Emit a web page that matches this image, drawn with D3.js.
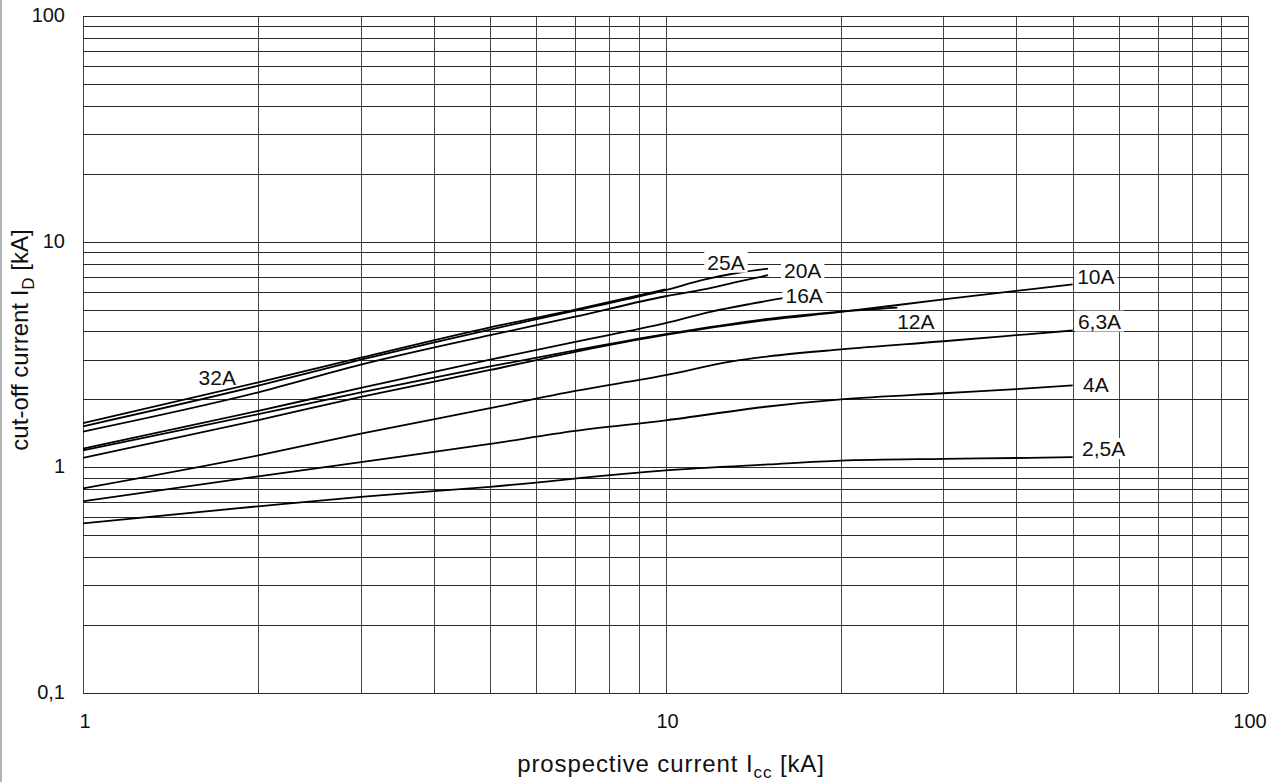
<!DOCTYPE html>
<html>
<head>
<meta charset="utf-8">
<script src="https://cdn.jsdelivr.net/npm/d3@7"></script>
<style>
  body { margin: 0; background: #fff; }
  svg text { font-family: "Liberation Sans", Arial, sans-serif; fill: #111; }
</style>
</head>
<body>
<svg id="chart"></svg>
<script>
// prospective current Icc [kA] / cut-off current ID [kA]
const curves = [
  { name: '32A',  x: [1, 2, 3, 5, 7, 10],                         y: [1.57, 2.38, 3.06, 4.17, 5.0, 6.15] },
  { name: '25A',  x: [1, 2, 3, 5, 7, 10, 11.7, 13.4, 15],         y: [1.52, 2.3, 3.0, 4.08, 4.95, 6.1, 6.8, 7.3, 7.6] },
  { name: '20A',  x: [1, 2, 3, 5, 7, 10, 11.7, 13.4, 15],         y: [1.44, 2.15, 2.85, 3.85, 4.65, 5.73, 6.16, 6.67, 7.1] },
  { name: '16A',  x: [1, 2, 3, 5, 7, 10, 12, 14, 16],             y: [1.21, 1.78, 2.25, 3.0, 3.6, 4.35, 4.9, 5.3, 5.63] },
  { name: '12A',  x: [1, 2, 3, 5, 7, 10, 15, 20, 25],             y: [1.19, 1.72, 2.15, 2.8, 3.3, 3.89, 4.55, 4.9, 5.1] },
  { name: '10A',  x: [1, 2, 3, 5, 7, 10, 15, 20, 30, 40, 50],     y: [1.1, 1.62, 2.05, 2.7, 3.25, 3.86, 4.5, 4.88, 5.55, 6.05, 6.47] },
  { name: '6,3A', x: [1, 2, 3, 5, 7, 10, 13, 15, 20, 30, 40, 50], y: [0.807, 1.13, 1.41, 1.83, 2.18, 2.56, 2.95, 3.1, 3.33, 3.62, 3.85, 4.04] },
  { name: '4A',   x: [1, 2, 3, 5, 7, 10, 15, 20, 30, 40, 50],     y: [0.707, 0.912, 1.055, 1.27, 1.45, 1.615, 1.86, 2.0, 2.13, 2.22, 2.31] },
  { name: '2,5A', x: [1, 2, 3, 5, 10, 15, 20, 30, 40, 50],        y: [0.565, 0.672, 0.74, 0.82, 0.97, 1.03, 1.07, 1.09, 1.1, 1.11] }
];

// where each curve label sits, in chart units (kA, kA)
const labelAt = [
  { name: '32A',  x: 1.70, y: 2.5,  box: false },
  { name: '25A',  x: 12.7, y: 8.1,  box: true },
  { name: '20A',  x: 17.2, y: 7.45, box: true },
  { name: '16A',  x: 17.3, y: 5.78, box: true },
  { name: '12A',  x: 26.9, y: 4.44, box: false },
  { name: '10A',  x: 54.8, y: 7.0,  box: true },
  { name: '6,3A', x: 55.6, y: 4.44, box: true },
  { name: '4A',   x: 54.8, y: 2.33, box: true },
  { name: '2,5A', x: 56.5, y: 1.21, box: true }
];

const xTicks = [1, 10, 100];
const xTickLabels = ['1', '10', '100'];
const yTicks = [0.1, 1, 10, 100];
const yTickLabels = ['0,1', '1', '10', '100'];

const W = 1282, H = 782;
const svg = d3.select('#chart').attr('width', W).attr('height', H);

const x = d3.scaleLog().domain([1, 100]).range([83, 1248]);
const y = d3.scaleLog().domain([0.1, 100]).range([693, 16]);

// left page border
svg.append('line')
  .attr('x1', 1).attr('x2', 1).attr('y1', 0).attr('y2', H)
  .attr('stroke', '#999').attr('stroke-width', 1.5);

// grid
const grid = svg.append('g').attr('shape-rendering', 'crispEdges');
grid.selectAll('line.gx')
  .data(x.ticks())
  .join('line')
  .attr('class', 'gx')
  .attr('x1', d => Math.round(x(d)) + 0.5).attr('x2', d => Math.round(x(d)) + 0.5)
  .attr('y1', y(0.1)).attr('y2', y(100))
  .attr('stroke', '#444').attr('stroke-width', 1);

grid.selectAll('line.gy')
  .data(y.ticks())
  .join('line')
  .attr('class', 'gy')
  .attr('x1', x(1)).attr('x2', x(100))
  .attr('y1', d => Math.round(y(d)) + 0.5).attr('y2', d => Math.round(y(d)) + 0.5)
  .attr('stroke', '#2a2a2a').attr('stroke-width', 1);

// tick labels
svg.append('g').selectAll('text')
  .data(xTicks)
  .join('text')
  .attr('x', d => x(d) + 2)
  .attr('y', 728)
  .attr('text-anchor', 'middle')
  .attr('font-size', 20)
  .text((d, i) => xTickLabels[i]);

svg.append('g').selectAll('text')
  .data(yTicks)
  .join('text')
  .attr('x', 65)
  .attr('y', d => y(d) + 6)
  .attr('text-anchor', 'end')
  .attr('font-size', 20)
  .text((d, i) => yTickLabels[i]);

// curves
const line = d3.line()
  .x(d => x(d[0]))
  .y(d => y(d[1]))
  .curve(d3.curveMonotoneX);

svg.append('g').selectAll('path')
  .data(curves)
  .join('path')
  .attr('d', c => line(c.x.map((v, i) => [v, c.y[i]])))
  .attr('fill', 'none')
  .attr('stroke', '#000')
  .attr('stroke-width', 1.8);

// curve labels, most with a white box that breaks the grid
const lab = svg.append('g').selectAll('g')
  .data(labelAt)
  .join('g')
  .attr('transform', d => `translate(${x(d.x)},${y(d.y)})`);

lab.append('text')
  .attr('text-anchor', 'middle')
  .attr('dy', '0.35em')
  .attr('font-size', 21)
  .text(d => d.name);

lab.each(function(d) {
  if (!d.box) return;
  const g = d3.select(this);
  const bb = g.select('text').node().getBBox();
  g.insert('rect', 'text')
    .attr('x', bb.x - 3).attr('y', bb.y + 1)
    .attr('width', bb.width + 6).attr('height', bb.height - 2)
    .attr('fill', '#fff');
});

// axis titles
svg.append('text')
  .attr('x', 671).attr('y', 772)
  .attr('text-anchor', 'middle')
  .attr('font-size', 24)
  .attr('letter-spacing', 0.9)
  .call(t => {
    t.append('tspan').text('prospective current I');
    t.append('tspan').attr('font-size', 17).attr('dy', 6).text('cc');
    t.append('tspan').attr('dy', -6).text(' [kA]');
  });

svg.append('text')
  .attr('transform', 'translate(28,340) rotate(-90)')
  .attr('text-anchor', 'middle')
  .attr('font-size', 24)
  .call(t => {
    t.append('tspan').text('cut-off current I');
    t.append('tspan').attr('font-size', 17).attr('dy', 6).text('D');
    t.append('tspan').attr('dy', -6).text(' [kA]');
  });
</script>
</body>
</html>
